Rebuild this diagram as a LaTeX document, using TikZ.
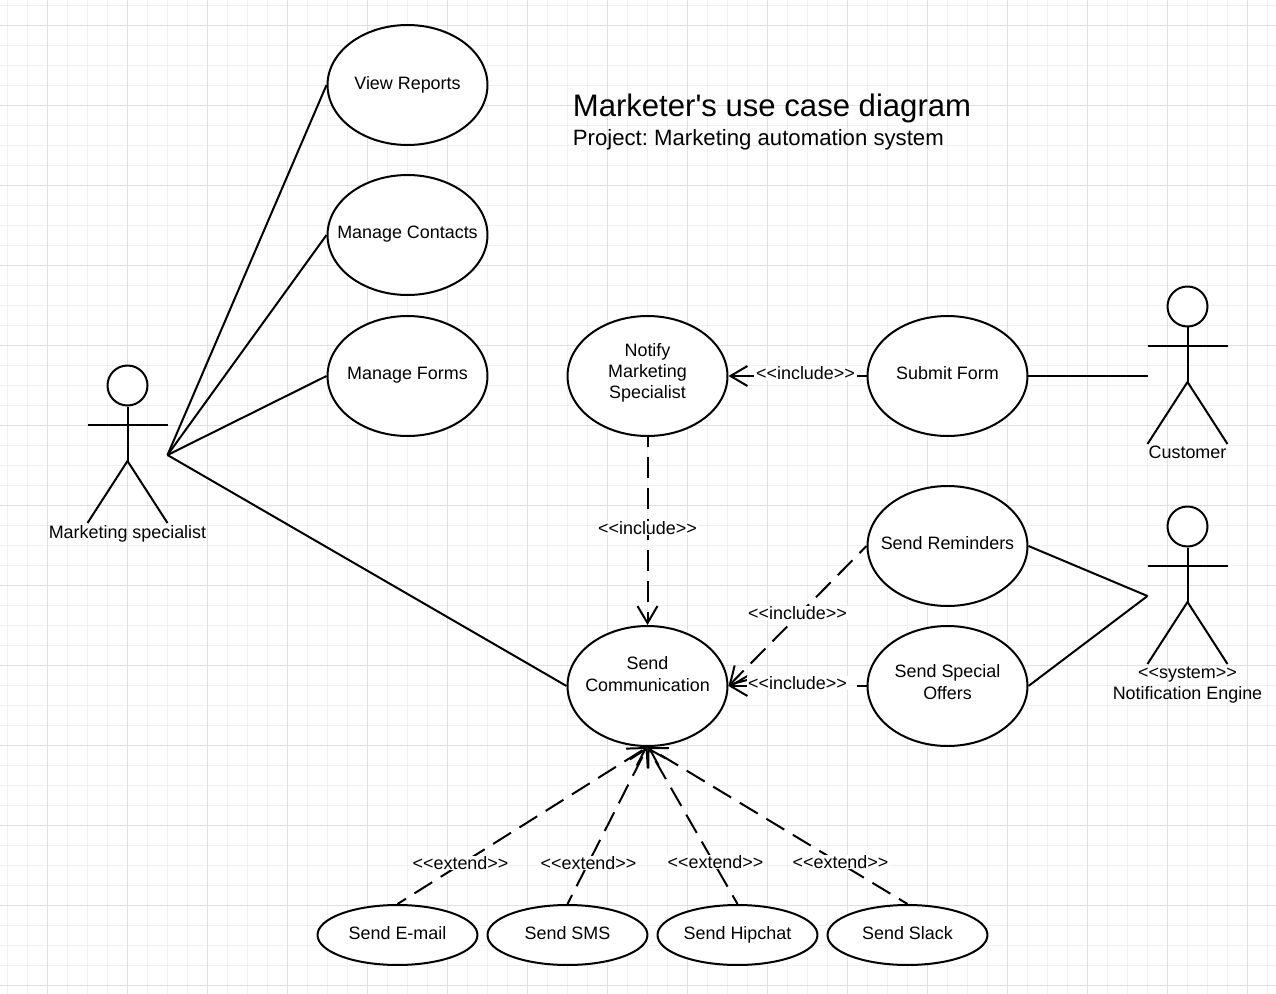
\documentclass[tikz,border=0pt]{standalone}
\usepackage{fontspec}
\defaultfontfeatures[\rmfamily]{}
\setmainfont{Liberation Sans}
\frenchspacing
\usetikzlibrary{arrows.meta, shapes.geometric}
\tikzset{
    usecase/.style={ellipse, draw=black, line width=0.04cm, fill=white, align=center, inner ysep=0pt, inner xsep=-0.5cm, minimum width=3.2cm, minimum height=2.4cm, font=\fontsize{10.2}{12.2}\selectfont},
    smallcase/.style={usecase, minimum height=1.2cm},
    lift/.style={text depth=#1},
    assoc/.style={draw=black, line width=0.04cm},
    depend/.style={draw=black, line width=0.04cm, dash pattern=on 0.42cm off 0.2cm, dash phase=0.22cm, -{Straight Barb[length=0.34cm, width=0.4cm]}},
    stereo/.style={fill=white, inner sep=0.5pt, font=\fontsize{10.2}{12.2}\selectfont},
    actorname/.style={align=center, inner sep=0pt, font=\fontsize{10.2}{12.2}\selectfont},
    gridminor/.style={draw=black!6, line width=0.025cm},
    gridmajor/.style={draw=black!12, line width=0.025cm},
    actor/.pic={
        \node[circle, draw=black, line width=0.04cm, fill=white, inner sep=0pt, minimum size=0.8cm] (-head) at (0,0.5) {};
        \coordinate (-hip) at (0,76);
        \coordinate (-west) at (-40,70);
        \coordinate (-east) at (40,70);
        \draw[assoc] (-head.south) -- (-hip);
        \draw[assoc] (-40,40) -- (40,40);
        \draw[assoc] (-40,138) -- (-hip) -- (40,138);
    }
}
\begin{document}
\begin{tikzpicture}[x=0.02cm, y=-0.02cm]
    \useasboundingbox (-0.5,0) rectangle (1275.5,994);
    \fill[white] (-0.5,0) rectangle (1275.5,994);

    % Grid
    \foreach \x in {7,27,...,1275} {\draw[gridminor] (\x,0) -- (\x,994);}
    \foreach \y in {5.5,25.5,...,994} {\draw[gridminor] (-0.5,\y) -- (1275.5,\y);}
    \foreach \x in {47,127,...,1275} {\draw[gridmajor] (\x,0) -- (\x,994);}
    \foreach \y in {25.5,105.5,...,994} {\draw[gridmajor] (-0.5,\y) -- (1275.5,\y);}

    % Title
    \node[anchor=west, inner sep=0pt, font=\fontsize{17.7}{22}\selectfont] (title) at (572,108) {Marketer's use case diagram};
    \node[anchor=west, inner sep=0pt, font=\fontsize{12.62}{16}\selectfont] (subtitle) at (572,140) {Project: Marketing automation system};

    % Use cases
    \node[usecase, lift=0.08cm] (reports) at (407,85) {View Reports};
    \node[usecase, lift=0.1cm] (contacts) at (407,235) {Manage Contacts};
    \node[usecase, lift=0.1cm] (forms) at (407,376) {Manage Forms};
    \node[usecase, lift=0.2cm] (notify) at (647,376) {Notify\\Marketing\\Specialist};
    \node[usecase, lift=0.1cm] (submit) at (947,376) {Submit Form};
    \node[usecase, lift=0.1cm] (reminders) at (947,546) {Send Reminders};
    \node[usecase, lift=0.16cm] (offers) at (947,686) {Send Special\\Offers};
    \node[usecase, lift=0.48cm] (comm) at (647,686) {Send\\Communication};
    \node[smallcase, lift=0.1cm] (email) at (397,935) {Send E-mail};
    \node[smallcase, lift=0.1cm] (sms) at (567,935) {Send SMS};
    \node[smallcase, lift=0.1cm] (hipchat) at (737,935) {Send Hipchat};
    \node[smallcase, lift=0.1cm] (slack) at (907,935) {Send Slack};

    % Actors
    \pic (specialist) at (127,385) {actor};
    \pic (customer) at (1187,306) {actor};
    \pic (engine) at (1187,526) {actor};
    \node[actorname] (specialistname) at (127,534) {Marketing specialist};
    \node[actorname] (customername) at (1187,452) {Customer};
    \node[actorname] (enginename) at (1187,685) {<<system>>\\Notification Engine};

    % Associations
    \foreach \t in {reports, contacts, forms, comm} {
        \draw[assoc] (specialist-east) -- (\t.west);
    }
    \draw[assoc] (submit.east) -- (customer-west);
    \draw[assoc] (reminders.east) -- (engine-west);
    \draw[assoc] (offers.east) -- (engine-west);

    % Dependencies
    \draw[depend] (submit.west) -- (notify.east);
    \draw[depend] (notify.south) -- (comm.north);
    \draw[depend] (reminders.west) -- (comm.east);
    \draw[depend] (offers.west) -- (comm.east);
    \foreach \s in {email, sms, hipchat, slack} {
        \draw[depend] (\s.north) -- (comm.south);
    }

    % Stereotypes
    \node[stereo] (incsubmit) at (805,373) {<<include>>};
    \node[stereo] (incnotify) at (647,528) {<<include>>};
    \node[stereo] (increminders) at (797,613) {<<include>>};
    \node[stereo] (incoffers) at (797,683) {<<include>>};
    \node[stereo] (extemail) at (460,863) {<<extend>>};
    \node[stereo] (extsms) at (588,863) {<<extend>>};
    \node[stereo] (exthipchat) at (715,862) {<<extend>>};
    \node[stereo] (extslack) at (840,862) {<<extend>>};
\end{tikzpicture}
\end{document}
